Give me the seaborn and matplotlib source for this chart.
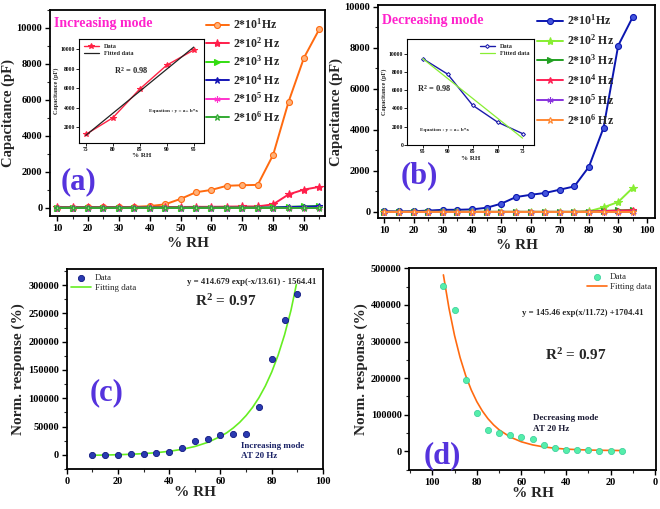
import numpy as np
import pandas as pd
import matplotlib
matplotlib.use('Agg')
import matplotlib.pyplot as plt
from matplotlib.ticker import MultipleLocator
import seaborn as sns

# ---- data ----
rh_inc = [10, 15, 20, 25, 30, 35, 40, 45, 50, 55, 60, 65, 70, 75, 80, 85, 90, 95]
inc_f1 = [20, 20, 30, 30, 40, 60, 100, 200, 500, 870, 1000, 1230, 1260, 1280, 2950, 5900, 8350, 9950]
inc_f2 = [50, 50, 50, 50, 50, 50, 50, 50, 50, 60, 60, 70, 80, 80, 200, 750, 1020, 1170]
inc_f3 = [20, 20, 20, 20, 20, 20, 20, 20, 20, 20, 20, 20, 20, 20, 30, 60, 80, 120]
inc_f4 = [10, 10, 10, 10, 10, 10, 10, 10, 10, 10, 10, 10, 10, 10, 20, 50, 70, 90]
inc_f5 = [10, 10, 10, 10, 10, 10, 10, 10, 10, 10, 10, 10, 10, 10, 10, 10, 10, 10]
inc_f6 = [5, 5, 5, 5, 5, 5, 5, 5, 5, 5, 5, 5, 5, 5, 5, 5, 5, 5]

rh_dec = [10, 15, 20, 25, 30, 35, 40, 45, 50, 55, 60, 65, 70, 75, 80, 85, 90, 95]
dec_f1 = [30, 20, 30, 60, 100, 100, 120, 200, 400, 720, 830, 920, 1080, 1240, 2200, 4100, 8100, 9500]
dec_f2 = [0, 0, 0, 0, 0, 0, 0, 0, 0, 0, 0, 0, 0, 0, 30, 220, 480, 1170]
dec_f3 = [0, 0, 0, 0, 0, 0, 0, 0, 0, 0, 0, 0, 0, 0, 10, 40, 70, 100]
dec_f4 = [0, 0, 0, 0, 0, 0, 0, 0, 0, 0, 0, 0, 0, 0, 10, 40, 60, 80]
dec_f5 = [5, 5, 5, 5, 5, 5, 5, 5, 5, 5, 5, 5, 5, 5, 5, 5, 5, 5]
dec_f6 = [0, 0, 0, 0, 0, 0, 0, 0, 0, 0, 0, 0, 0, 0, 0, 0, 0, 0]

freq_labels = ['2*10$^1$Hz', '2*10$^2$ Hz', '2*10$^3$ Hz',
               '2*10$^4$ Hz', '2*10$^5$ Hz', '2*10$^6$ Hz']

ins_a_x = [75, 80, 85, 90, 95]
ins_a_data = [1250, 2950, 5900, 8350, 9900]
ins_a_fit_x = [75, 95]
ins_a_fit = [1150, 10200]

ins_b_x = [95, 90, 85, 80, 75]
ins_b_data = [9450, 7750, 4350, 2500, 1250]
ins_b_fit_x = [95, 75]
ins_b_fit = [9450, 750]

rh_c = [10, 15, 20, 25, 30, 35, 40, 45, 50, 55, 60, 65, 70, 75, 80, 85, 90]
resp_c = [0, 0, 500, 1500, 2000, 2500, 5000, 13000, 25000, 28500, 35000, 36000, 36000,
          84000, 170000, 239000, 284000]
fit_c_x = [10, 15, 20, 25, 30, 35, 40, 45, 50, 55, 60, 62.5, 65, 67.5, 70, 72.5, 75,
           77.5, 80, 82.5, 85, 87.5, 89.6]
fit_c = [-700, -320, 240, 1040, 2190, 3860, 6270, 9750, 14780, 22030, 32500, 39200, 47600,
         57500, 69500, 83800, 101000, 121700, 146500, 176400, 212200, 255400, 301000]

rh_d = [95, 90, 85, 80, 75, 70, 65, 60, 55, 50, 45, 40, 35, 30, 25, 20, 15]
resp_d = [451000, 385000, 196000, 105000, 58000, 51000, 45000, 39000, 34000, 18000, 8000,
          4000, 3500, 3000, 1500, 500, 0]
fit_d_x = [95, 92.5, 90, 87.5, 85, 82.5, 80, 77.5, 75, 72.5, 70, 65, 60, 55, 50, 45, 40,
           35, 30, 25, 20, 15]
fit_d = [482000, 391000, 316500, 256000, 207100, 167700, 135700, 110000, 89150, 72400,
         58800, 39000, 26000, 17600, 12100, 8500, 6100, 4600, 3600, 2900, 2500, 2200]

# ---- style ----
sns.set_theme(style='ticks')
plt.rcParams['font.family'] = ['Liberation Serif', 'DejaVu Serif']
plt.rcParams['font.weight'] = 'bold'
plt.rcParams['axes.labelweight'] = 'bold'
plt.rcParams['mathtext.fontset'] = 'custom'
plt.rcParams['mathtext.rm'] = 'Liberation Serif:bold'
plt.rcParams['mathtext.it'] = 'Liberation Serif:bold'
plt.rcParams['mathtext.bf'] = 'Liberation Serif:bold'
plt.rcParams['mathtext.default'] = 'rm'

fig = plt.figure(figsize=(6.6, 5.09), dpi=100)


def add_ax(l, t, r, b):
    W, H = 660.0, 509.0
    return fig.add_axes([l / W, 1 - b / H, (r - l) / W, (b - t) / H])


def style_ax(ax, size=8, lw=1.3):
    for s in ax.spines.values():
        s.set_linewidth(lw)
        s.set_color('black')
    ax.tick_params(which='major', direction='out', length=3.5, width=1, labelsize=size,
                   colors='black', pad=2)
    ax.tick_params(which='minor', direction='out', length=2, width=0.8)
    for lab in ax.get_xticklabels() + ax.get_yticklabels():
        lab.set_fontweight('bold')


def series(ax, x, y, color, marker, label, ms=4, mfc=None, lw=1.4):
    sns.lineplot(x=x, y=y, ax=ax, color=color, marker=marker, markersize=ms,
                 markerfacecolor=mfc if mfc else color, markeredgecolor=color,
                 markeredgewidth=0.8, linewidth=lw, label=label, sort=False)


ast = (6, 2, 0)

# ---- (a) ----
ax_a = add_ax(50, 10, 325, 216)
series(ax_a, rh_inc, inc_f1, '#FF6A0F', 'o', freq_labels[0], ms=4.3, mfc='#FFB27A')
series(ax_a, rh_inc, inc_f2, '#FF1F4B', '*', freq_labels[1], ms=6)
series(ax_a, rh_inc, inc_f3, '#33DD11', '>', freq_labels[2], ms=4)
series(ax_a, rh_inc, inc_f4, '#1515B5', '*', freq_labels[3], ms=4.5)
series(ax_a, rh_inc, inc_f5, '#FF33CC', ast, freq_labels[4], ms=4.5)
series(ax_a, rh_inc, inc_f6, '#33AA33', '*', freq_labels[5], ms=4.5, mfc='#99DD99')
ax_a.set_xlim(7.7, 96.8)
ax_a.set_ylim(-450, 11000)
ax_a.xaxis.set_major_locator(MultipleLocator(10))
ax_a.xaxis.set_minor_locator(MultipleLocator(5))
ax_a.yaxis.set_major_locator(MultipleLocator(2000))
ax_a.yaxis.set_minor_locator(MultipleLocator(1000))
ax_a.set_xlabel('% RH', fontsize=11, labelpad=3)
ax_a.set_ylabel('Capacitance (pF)', fontsize=10.5, labelpad=1)
style_ax(ax_a, size=7.5)
ax_a.legend(loc='upper left', bbox_to_anchor=(0.54, 1.0), frameon=False, fontsize=8.5,
            handlelength=2.0, handletextpad=0.3, labelspacing=0.33, borderaxespad=0.2)
ax_a.text(0.015, 0.935, 'Increasing mode', transform=ax_a.transAxes, color='#FF22CC',
          fontsize=10, fontweight='bold', va='center')
ax_a.text(0.04, 0.165, '(a)', transform=ax_a.transAxes, color='#5533DD',
          fontsize=22, fontweight='bold', va='center')

# inset (a)
in_a = add_ax(79.3, 39.3, 204, 142.7)
sns.lineplot(x=ins_a_x, y=ins_a_data, ax=in_a, color='#FF2244', marker='*', markersize=4,
             markeredgecolor='#FF2244', linewidth=1, label='Data')
sns.lineplot(x=ins_a_fit_x, y=ins_a_fit, ax=in_a, color='#222222', linewidth=0.9,
             label='Fitted data')
in_a.set_xlim(73.8, 96.9)
in_a.set_ylim(400, 11000)
in_a.xaxis.set_major_locator(MultipleLocator(5))
in_a.yaxis.set_major_locator(MultipleLocator(2000))
in_a.set_xlabel('% RH', fontsize=5, labelpad=1)
in_a.set_ylabel('Capacitance (pF)', fontsize=4.5, labelpad=1)
style_ax(in_a, size=4, lw=0.8)
in_a.tick_params(which='major', length=2, width=0.6, pad=1)
in_a.legend(loc='upper left', frameon=False, fontsize=4.5, handlelength=2.5,
            borderaxespad=0.3, labelspacing=0.3)
in_a.text(0.28, 0.66, 'R$^2$ = 0.98', transform=in_a.transAxes, fontsize=6)
in_a.text(0.56, 0.3, 'Equation : y = a+ b*x', transform=in_a.transAxes, fontsize=3.8)

# ---- (b) ----
ax_b = add_ax(378, 5, 655, 218)
series(ax_b, rh_dec, dec_f1, '#0B16B0', 'o', freq_labels[0], ms=4.3, mfc='#4455DD')
series(ax_b, rh_dec, dec_f2, '#88EE33', '*', freq_labels[1], ms=6)
series(ax_b, rh_dec, dec_f3, '#22A022', '>', freq_labels[2], ms=4)
series(ax_b, rh_dec, dec_f4, '#FF2255', '*', freq_labels[3], ms=4.5)
series(ax_b, rh_dec, dec_f5, '#8833DD', ast, freq_labels[4], ms=4.5)
series(ax_b, rh_dec, dec_f6, '#FF8833', '*', freq_labels[5], ms=4.5, mfc='#FFE0C0')
ax_b.set_xlim(7.8, 102.6)
ax_b.set_ylim(-300, 10080)
ax_b.xaxis.set_major_locator(MultipleLocator(10))
ax_b.xaxis.set_minor_locator(MultipleLocator(5))
ax_b.yaxis.set_major_locator(MultipleLocator(2000))
ax_b.yaxis.set_minor_locator(MultipleLocator(1000))
ax_b.set_xlabel('% RH', fontsize=11, labelpad=3)
ax_b.set_ylabel('Capacitance (pF)', fontsize=10.5, labelpad=1)
style_ax(ax_b, size=7.5)
ax_b.legend(loc='upper left', bbox_to_anchor=(0.55, 0.995), frameon=False, fontsize=8.5,
            handlelength=2.2, handletextpad=0.3, labelspacing=0.45, borderaxespad=0.2)
ax_b.text(0.015, 0.925, 'Decreasing mode', transform=ax_b.transAxes, color='#FF22CC',
          fontsize=10, fontweight='bold', va='center')
ax_b.text(0.08, 0.2, '(b)', transform=ax_b.transAxes, color='#5533DD',
          fontsize=22, fontweight='bold', va='center')

# inset (b)
in_b = add_ax(407.3, 39, 534, 145)
sns.lineplot(x=ins_b_x, y=ins_b_data, ax=in_b, color='#1A1AAA', marker='D', markersize=2,
             markerfacecolor='white', markeredgecolor='#1A1AAA', linewidth=1, label='Data',
             sort=False)
sns.lineplot(x=ins_b_fit_x, y=ins_b_fit, ax=in_b, color='#88EE33', linewidth=0.9,
             label='Fitted data', sort=False)
in_b.set_xlim(98.1, 72.7)
in_b.set_ylim(0, 11600)
in_b.xaxis.set_major_locator(MultipleLocator(5))
in_b.yaxis.set_major_locator(MultipleLocator(2000))
in_b.set_xlabel('% RH', fontsize=5, labelpad=1)
in_b.set_ylabel('Capacitance (pF)', fontsize=4.5, labelpad=1)
style_ax(in_b, size=4, lw=0.8)
in_b.tick_params(which='major', length=2, width=0.6, pad=1)
in_b.legend(loc='upper right', frameon=False, fontsize=4.5, handlelength=2.5,
            borderaxespad=0.3, labelspacing=0.3)
in_b.text(0.08, 0.5, 'R$^2$ = 0.98', transform=in_b.transAxes, fontsize=6)
in_b.text(0.1, 0.13, 'Equation : y = a+ b*x', transform=in_b.transAxes, fontsize=3.8)

# ---- (c) ----
ax_c = add_ax(66.7, 269.3, 323, 469)
sns.scatterplot(x=rh_c, y=resp_c, ax=ax_c, color='#2A3AB0', edgecolor='#101880', s=20,
                linewidth=0.6, label='Data', zorder=3)
sns.lineplot(x=fit_c_x, y=fit_c, ax=ax_c, color='#66EE22', linewidth=1.2,
             label='Fitting data', sort=False)
ax_c.set_xlim(0, 100)
ax_c.set_ylim(-25000, 328000)
ax_c.xaxis.set_major_locator(MultipleLocator(20))
ax_c.xaxis.set_minor_locator(MultipleLocator(10))
ax_c.yaxis.set_major_locator(MultipleLocator(50000))
ax_c.yaxis.set_minor_locator(MultipleLocator(25000))
ax_c.set_xlabel('% RH', fontsize=11, labelpad=0)
ax_c.set_ylabel('Norm. response (%)', fontsize=11, labelpad=2)
style_ax(ax_c, size=7.5)
leg = ax_c.legend(loc='upper left', frameon=False, fontsize=6.5, handlelength=2.2,
                  handletextpad=0.4, labelspacing=0.15, borderaxespad=0.1)
for t in leg.get_texts():
    t.set_fontweight('normal')
ax_c.text(0.975, 0.935, 'y = 414.679 exp(-x/13.61) - 1564.41', transform=ax_c.transAxes,
          fontsize=6.3, ha='right', va='center')
ax_c.text(0.5, 0.84, 'R$^2$ = 0.97', transform=ax_c.transAxes, fontsize=11, va='center')
ax_c.text(0.68, 0.09, 'Increasing mode\nAT 20 Hz', transform=ax_c.transAxes,
          fontsize=6.5, color='#1A2266', va='center', linespacing=1.4)
ax_c.text(0.09, 0.38, '(c)', transform=ax_c.transAxes, color='#5533DD',
          fontsize=22, fontweight='bold', va='center')

# ---- (d) ----
ax_d = add_ax(409.3, 268.3, 656, 470)
sns.scatterplot(x=rh_d, y=resp_d, ax=ax_d, color='#55EEAA', edgecolor='#33CC99', s=20,
                linewidth=0.5, label='Data', zorder=3)
sns.lineplot(x=fit_d_x, y=fit_d, ax=ax_d, color='#FF6A10', linewidth=1.2,
             label='Fitting data', sort=False)
ax_d.set_xlim(110.3, -0.4)
ax_d.set_ylim(-51000, 500000)
ax_d.xaxis.set_major_locator(MultipleLocator(20))
ax_d.xaxis.set_minor_locator(MultipleLocator(10))
ax_d.yaxis.set_major_locator(MultipleLocator(100000))
ax_d.yaxis.set_minor_locator(MultipleLocator(50000))
ax_d.set_xlabel('% RH', fontsize=11, labelpad=0)
ax_d.set_ylabel('Norm. response (%)', fontsize=11, labelpad=2)
style_ax(ax_d, size=7.5)
leg = ax_d.legend(loc='upper right', frameon=False, fontsize=6.5, handlelength=2.2,
                  handletextpad=0.4, labelspacing=0.15, borderaxespad=0.1)
for t in leg.get_texts():
    t.set_fontweight('normal')
ax_d.text(0.95, 0.78, 'y = 145.46 exp(x/11.72) +1704.41', transform=ax_d.transAxes,
          fontsize=6.3, ha='right', va='center')
ax_d.text(0.55, 0.57, 'R$^2$ = 0.97', transform=ax_d.transAxes, fontsize=11, va='center')
ax_d.text(0.5, 0.23, 'Decreasing mode\nAT 20 Hz', transform=ax_d.transAxes,
          fontsize=6.5, color='#1A1A33', va='center', linespacing=1.4)
ax_d.text(0.06, 0.07, '(d)', transform=ax_d.transAxes, color='#5533DD',
          fontsize=22, fontweight='bold', va='center')

fig.savefig('out.png', dpi=100)
